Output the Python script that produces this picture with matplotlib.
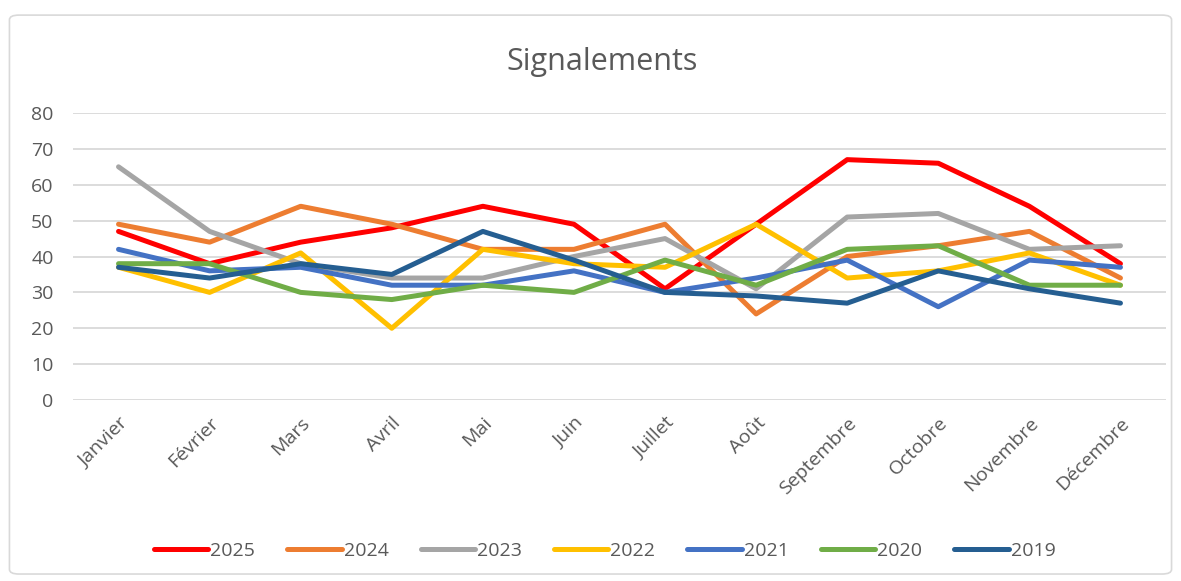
import matplotlib
matplotlib.use("Agg")
import matplotlib.pyplot as plt
from matplotlib.patches import FancyBboxPatch

months = ["Janvier", "Février", "Mars", "Avril", "Mai", "Juin", "Juillet",
          "Août", "Septembre", "Octobre", "Novembre", "Décembre"]
years = ["2025", "2024", "2023", "2022", "2021", "2020", "2019"]

v2025 = [47, 38, 44, 48, 54, 49, 31, 49, 67, 66, 54, 38]
v2024 = [49, 44, 54, 49, 42, 42, 49, 24, 40, 43, 47, 34]
v2023 = [65, 47, 38, 34, 34, 40, 45, 31, 51, 52, 42, 43]
v2022 = [37, 30, 41, 20, 42, 38, 37, 49, 34, 36, 41, 32]
v2021 = [42, 36, 37, 32, 32, 36, 30, 34, 39, 26, 39, 37]
v2020 = [38, 38, 30, 28, 32, 30, 39, 32, 42, 43, 32, 32]
v2019 = [37, 34, 38, 35, 47, 39, 30, 29, 27, 36, 31, 27]

series = [v2025, v2024, v2023, v2022, v2021, v2020, v2019]
colors = ["#FF0000", "#ED7D31", "#A5A5A5", "#FFC000", "#4472C4", "#70AD47", "#255E91"]

plt.rcParams["font.family"] = ["Open Sans", "DejaVu Sans"]
text_col = "#595959"

fig = plt.figure(figsize=(11.81, 5.81), dpi=100)
fig.patches.append(FancyBboxPatch((0.008, 0.012), 0.984, 0.962,
                                  boxstyle="round,pad=0,rounding_size=0.008",
                                  transform=fig.transFigure, fill=False,
                                  edgecolor="#D9D9D9", linewidth=1.2))

ax = fig.add_axes([0.0618, 0.3115, 0.9255, 0.494])
x = list(range(len(months)))
for name, vals, c in zip(years, series, colors):
    ax.plot(x, vals, color=c, linewidth=3.6, label=name, solid_capstyle="round")

ax.set_xlim(-0.5, len(months) - 0.5)
ax.set_ylim(0, 80)
ax.set_yticks(range(0, 81, 10))
ax.grid(axis="y", color="#D9D9D9", linewidth=1.3)
ax.set_axisbelow(True)
for s in ax.spines.values():
    s.set_visible(False)
ax.tick_params(length=0, colors=text_col, labelsize=14)
ax.tick_params(axis="y", pad=14)
ax.set_xticks(x)
ax.set_xticklabels(months, rotation=45, ha="right", rotation_mode="anchor")
ax.tick_params(axis="x", pad=10)

fig.text(0.51, 0.893, "Signalements", ha="center", va="center", fontsize=22, color=text_col)

fig.legend(loc="center", bbox_to_anchor=(0.512, 0.052), ncol=7, frameon=False,
           fontsize=14, handlelength=2.8, handletextpad=0.1, columnspacing=1.65,
           labelcolor=text_col)

fig.savefig("out.png", dpi=100)
